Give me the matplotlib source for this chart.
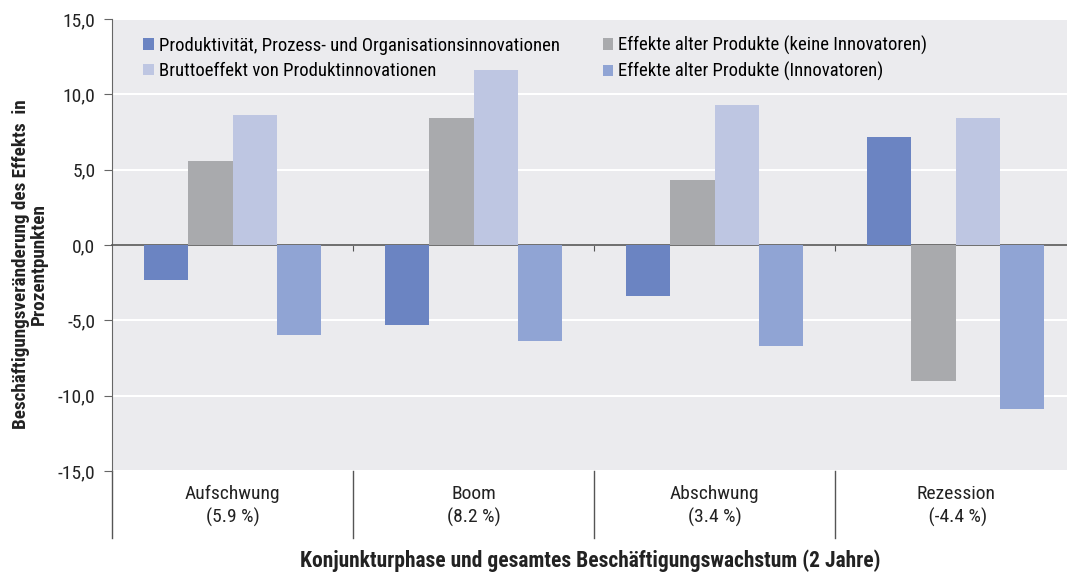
import matplotlib.pyplot as plt
import numpy as np
from matplotlib import font_manager

phasen = ['Aufschwung\n(5.9 %)', 'Boom\n(8.2 %)', 'Abschwung\n(3.4 %)', 'Rezession\n (-4.4 %)']
serien = ['Produktivität, Prozess- und Organisationsinnovationen',
          'Bruttoeffekt von Produktinnovationen',
          'Effekte alter Produkte (keine Innovatoren)',
          'Effekte alter Produkte (Innovatoren)']
produktivitaet = [-2.3, -5.3, -3.4, 7.2]
alte_keine = [5.6, 8.4, 4.3, -9.0]
brutto = [8.6, 11.6, 9.3, 8.4]
alte_innov = [-6.0, -6.4, -6.7, -10.9]
y_ticks = [15, 10, 5, 0, -5, -10, -15]

names = {f.name for f in font_manager.fontManager.ttflist}
fams = [f for f in ['Roboto Condensed', 'Archivo Narrow', 'DejaVu Sans'] if f in names]
plt.rcParams['font.family'] = fams + ['DejaVu Sans']


def main():
    fig = plt.figure(figsize=(10.67, 5.74), dpi=100)
    ax = fig.add_axes([112 / 1067, 1 - 471 / 574, 964 / 1067, 452 / 574])
    ax.set_facecolor('#ebebee')

    x = np.arange(len(phasen))
    w = 0.183
    # order in the picture: blue, gray, light, innov
    reihen = [(produktivitaet, '#6b84c2', serien[0]),
              (alte_keine, '#a9aaad', serien[2]),
              (brutto, '#bec6e2', serien[1]),
              (alte_innov, '#90a4d4', serien[3])]
    handles = {}
    for i, (vals, col, lab) in enumerate(reihen):
        b = ax.bar(x + (i - 1.5) * w, vals, w, color=col, label=lab, zorder=3)
        handles[lab] = b

    ax.set_xlim(-0.5, len(phasen) - 0.5)
    ax.set_ylim(-15, 15)
    ax.set_yticks(y_ticks)
    ax.set_yticklabels([f'{v:.1f}'.replace('.', ',') for v in y_ticks], fontsize=14, color='#222222')
    ax.yaxis.grid(True, color='white', linewidth=1.5, zorder=0)
    ax.set_axisbelow(True)
    ax.tick_params(axis='y', direction='out', length=6, color='#666666', pad=6)

    for s in ['top', 'right']:
        ax.spines[s].set_visible(False)
    ax.spines['left'].set_color('#666666')
    ax.spines['bottom'].set_position(('data', 0))
    ax.spines['bottom'].set_color('#555555')
    ax.spines['bottom'].set_linewidth(1.2)
    ax.set_xticks(x[1:] - 0.5)
    ax.set_xticklabels([])
    ax.tick_params(axis='x', direction='out', length=4, color='#555555')

    # category labels and separators below the plot area
    trans = ax.get_xaxis_transform()
    for i in range(len(phasen) + 1):
        ax.plot([i - 0.5, i - 0.5], [0, -0.148], transform=trans, color='#555555',
                linewidth=1, clip_on=False)
    for i, p in enumerate(phasen):
        ax.text(i, -0.077, p, transform=trans, ha='center', va='center',
                fontsize=14, color='#222222', linespacing=1.3)

    fig.text(590 / 1067, 1 - 561 / 574, 'Konjunkturphase und gesamtes Beschäftigungswachstum (2 Jahre)',
             ha='center', va='center', fontsize=15.5, fontweight='bold', color='#222222')
    fig.text(30 / 1067, 1 - 264 / 574, 'Beschäftigungsveränderung des Effekts  in\nProzentpunkten',
             ha='center', va='center', rotation=90, fontsize=13.8, fontweight='bold',
             color='#222222', linespacing=1.05)

    order = [serien[0], serien[1], serien[2], serien[3]]
    ax.legend([handles[k] for k in order], order, ncol=2, frameon=False, loc='upper left',
              bbox_to_anchor=(0.019, 0.992), fontsize=13.5, handlelength=0.55, handleheight=0.55,
              handletextpad=0.27, columnspacing=2.3, labelspacing=0.38, borderaxespad=0.3)

    fig.savefig('out.png', dpi=100)


if __name__ == '__main__':
    main()
